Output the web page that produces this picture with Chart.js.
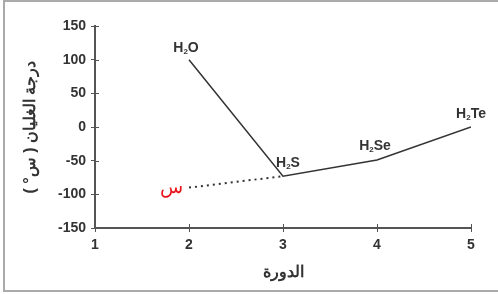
<!DOCTYPE html>
<html>
<head>
<meta charset="utf-8">
<script src="https://cdn.jsdelivr.net/npm/chart.js@4.4.1/dist/chart.umd.min.js"></script>
<style>
  html, body { margin: 0; padding: 0; background: #fff; }
  #wrap { position: relative; width: 498px; height: 294px; }
</style>
</head>
<body>
<div id="wrap"><canvas id="chart" width="498" height="294"></canvas></div>
<script>
// data
const periods = [2, 3, 4, 5];
const boilingPoints = [100, -73, -49, 0];
const compounds = ['H2O', 'H2S', 'H2Se', 'H2Te'];
const guessPeriods = [2, 3];
const guessValues = [-90, -73];
const xTicks = [1, 2, 3, 4, 5];
const yTicks = [150, 100, 50, 0, -50, -100, -150];

const INK = '#333';
const FONT = '"Liberation Sans", Arial, sans-serif';

// label offsets in px, relative to each point
const labelOffsets = [[-3, -12], [5, -13], [-2, -14], [0, -13]];

const formulaLabels = {
    id: 'formulaLabels',
    afterDatasetsDraw(chart) {
        const { ctx, scales: { x, y } } = chart;
        ctx.save();
        ctx.fillStyle = INK;
        ctx.textBaseline = 'middle';
        compounds.forEach((name, i) => {
            const px = x.getPixelForValue(periods[i]) + labelOffsets[i][0];
            const py = y.getPixelForValue(boilingPoints[i]) + labelOffsets[i][1];
            const rest = name.slice(2);
            ctx.font = 'bold 14px ' + FONT;
            const wH = ctx.measureText('H').width;
            const wR = ctx.measureText(rest).width;
            ctx.font = 'bold 8px ' + FONT;
            const w2 = ctx.measureText('2').width;
            let cx = px - (wH + w2 + wR) / 2;
            ctx.textAlign = 'left';
            ctx.font = 'bold 14px ' + FONT;
            ctx.fillText('H', cx, py);
            cx += wH;
            ctx.font = 'bold 8px ' + FONT;
            ctx.fillText('2', cx, py + 4);
            cx += w2;
            ctx.font = 'bold 14px ' + FONT;
            ctx.fillText(rest, cx, py);
        });
        // red unknown mark next to the dotted line end
        const sx = x.getPixelForValue(guessPeriods[0]) - 18;
        const sy = y.getPixelForValue(guessValues[0]) + 0;
        ctx.fillStyle = '#e8141b';
        ctx.font = '19px "DejaVu Serif", serif';
        ctx.textAlign = 'center';
        ctx.fillText('س', sx, sy);
        ctx.restore();
    }
};

const frame = {
    id: 'frame',
    afterDraw(chart) {
        const { ctx, scales: { x, y } } = chart;
        ctx.save();
        ctx.strokeStyle = '#aaa';
        ctx.lineWidth = 2;
        ctx.strokeRect(4, 1, 520, 290);
        // ticks crossing the axes
        ctx.strokeStyle = '#555';
        ctx.lineWidth = 1;
        ctx.beginPath();
        yTicks.forEach(v => {
            const py = Math.round(y.getPixelForValue(v)) + 0.5;
            ctx.moveTo(x.left, py);
            ctx.lineTo(x.left + 4, py);
        });
        xTicks.forEach(v => {
            const px = Math.round(x.getPixelForValue(v)) + 0.5;
            ctx.moveTo(px, y.bottom);
            ctx.lineTo(px, y.bottom - 4);
        });
        ctx.stroke();
        ctx.restore();
    }
};

new Chart(document.getElementById('chart'), {
    type: 'scatter',
    data: {
        datasets: [
            {
                data: periods.map((p, i) => ({ x: p, y: boilingPoints[i] })),
                showLine: true,
                borderColor: INK,
                borderWidth: 1.5,
                pointRadius: 0,
                tension: 0
            },
            {
                data: guessPeriods.map((p, i) => ({ x: p, y: guessValues[i] })),
                showLine: true,
                borderColor: INK,
                borderWidth: 2,
                borderDash: [2, 4],
                pointRadius: 0,
                tension: 0
            }
        ]
    },
    options: {
        responsive: false,
        animation: false,
        layout: { padding: { top: 26, right: 27, left: 0, bottom: 0 } },
        plugins: {
            legend: { display: false },
            tooltip: { enabled: false }
        },
        scales: {
            x: {
                type: 'linear',
                min: 1,
                max: 5,
                afterBuildTicks: s => { s.ticks = xTicks.map(v => ({ value: v })); },
                afterFit: s => { s.height = 66; },
                grid: { drawOnChartArea: false, tickLength: 4, color: '#555' },
                border: { color: '#555', width: 2 },
                ticks: { color: INK, font: { family: FONT, size: 14, weight: 'bold' }, padding: 5, maxRotation: 0 },
                title: {
                    display: true,
                    text: 'الدورة',
                    color: INK,
                    font: { family: FONT, size: 16, weight: 'bold' },
                    padding: { top: 0, bottom: 12 }
                }
            },
            y: {
                min: -150,
                max: 150,
                afterBuildTicks: s => { s.ticks = yTicks.map(v => ({ value: v })); },
                afterFit: s => { s.width = 95; },
                grid: { drawOnChartArea: false, tickLength: 4, color: '#555' },
                border: { color: '#555', width: 2 },
                ticks: { color: INK, font: { family: FONT, size: 14, weight: 'bold' }, padding: 5 },
                title: {
                    display: true,
                    text: 'درجة الغليان ( س° )',
                    color: INK,
                    font: { family: FONT, size: 16, weight: 'bold' },
                    padding: { top: 21, bottom: 0 }
                }
            }
        }
    },
    plugins: [formulaLabels, frame]
});
</script>
</body>
</html>
